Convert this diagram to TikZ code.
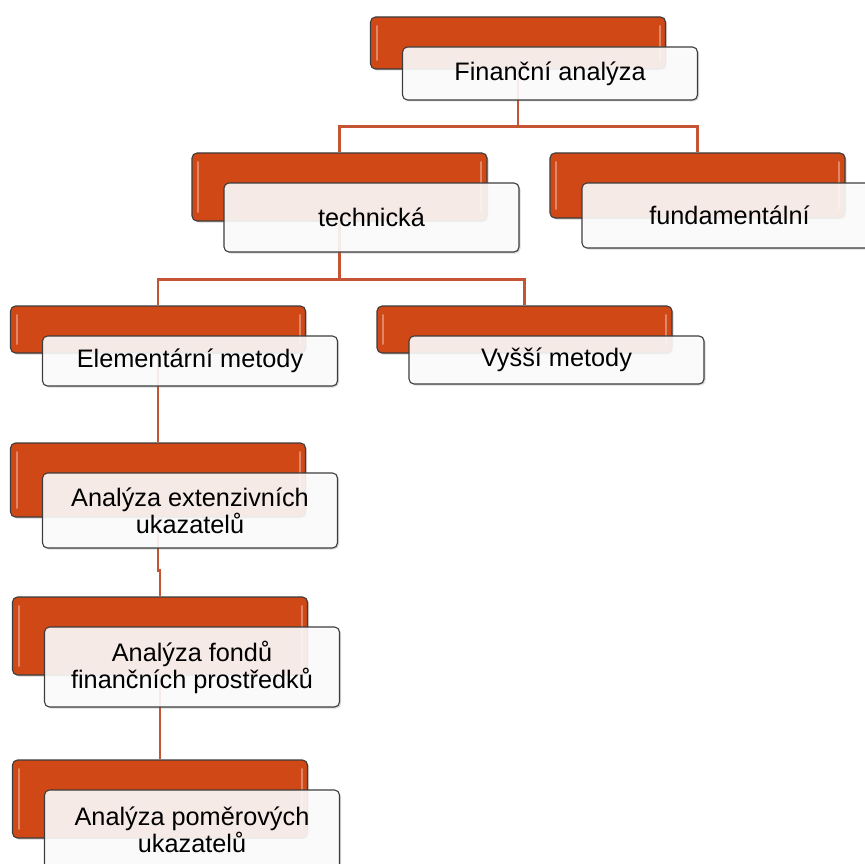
\documentclass[tikz,border=0pt]{standalone}
\usepackage{fontspec}
\setmainfont{Liberation Sans}
\usepackage{tikz}
\usetikzlibrary{positioning,shadows,backgrounds}
\definecolor{boxorange}{RGB}{208,72,22}
\definecolor{linkred}{RGB}{196,84,52}
\definecolor{rimgrey}{RGB}{60,60,60}
\tikzset{
  back/.style={draw=rimgrey,line width=1.1pt,fill=boxorange,rounded corners=5pt,
    minimum width=295pt,inner sep=0pt,
    drop shadow={opacity=0.35,shadow xshift=1.5pt,shadow yshift=-1.5pt},
    path picture={
      \draw[white,opacity=0.35,line width=2pt,line cap=round]
        ([xshift=6pt,yshift=-9pt]path picture bounding box.north west) --
        ([xshift=6pt,yshift=9pt]path picture bounding box.south west);
      \draw[white,opacity=0.35,line width=2pt,line cap=round]
        ([xshift=-6pt,yshift=-9pt]path picture bounding box.north east) --
        ([xshift=-6pt,yshift=9pt]path picture bounding box.south east);}},
  front/.style={draw=rimgrey,line width=1.1pt,fill=white,fill opacity=0.88,text opacity=1,
    rounded corners=5pt,minimum width=295pt,inner sep=0pt,align=center,
    font=\fontsize{25.3}{27}\selectfont,
    drop shadow={opacity=0.3,shadow xshift=1.5pt,shadow yshift=-1.5pt}},
  link/.style={draw=linkred,line width=2.3pt,
    to path={(\tikztostart) |- ([yshift=26pt]\tikztotarget.north) -- (\tikztotarget.north)}}
}

\begin{document}
\begin{tikzpicture}[x=1pt,y=-1pt]
    \path[use as bounding box] (0,0) rectangle (865,864);
    \clip (0,0) rectangle (865,864);
    \node[back,minimum height=52pt] (o1) at (518,43) {};
    \node[front,minimum height=53pt] (w1) [below right=30pt and 32pt of o1.north west] {Finanční analýza};
    \node[back,minimum height=68pt] (o2) at (339.5,187) {};
    \node[front,minimum height=69pt] (w2) [below right=30pt and 32pt of o2.north west] {technická};
    \node[back,minimum height=65pt] (o3) at (697.5,185.5) {};
    \node[front,minimum height=65pt] (w3) [below right=30pt and 32pt of o3.north west] {fundamentální};
    \node[back,minimum height=47pt] (o4) at (158,329.5) {};
    \node[front,minimum height=50pt] (w4) [below right=30pt and 32pt of o4.north west] {Elementární metody};
    \node[back,minimum height=47pt] (o5) at (524.5,329.5) {};
    \node[front,minimum height=48pt] (w5) [below right=30pt and 32pt of o5.north west] {Vyšší metody};
    \node[back,minimum height=74pt] (o6) at (158,480) {};
    \node[front,minimum height=75pt] (w6) [below right=30pt and 32pt of o6.north west] {Analýza extenzivních\\ukazatelů};
    \node[back,minimum height=78pt] (o7) at (160,636) {};
    \node[front,minimum height=80pt] (w7) [below right=30pt and 32pt of o7.north west] {Analýza fondů\\finančních prostředků};
    \node[back,minimum height=78pt] (o8) at (160,799) {};
    \node[front,minimum height=80pt] (w8) [below right=30pt and 32pt of o8.north west] {Analýza poměrových\\ukazatelů};
    \begin{scope}[on background layer]
    \path
    (o1) edge[link] (o2)
    (o1) edge[link] (o3)
    (o2) edge[link] (o4)
    (o2) edge[link] (o5)
    (o4) edge[link] (o6)
    (o6) edge[link] (o7)
    (o7) edge[link] (o8)
    ;
    \end{scope}
\end{tikzpicture}
\end{document}
